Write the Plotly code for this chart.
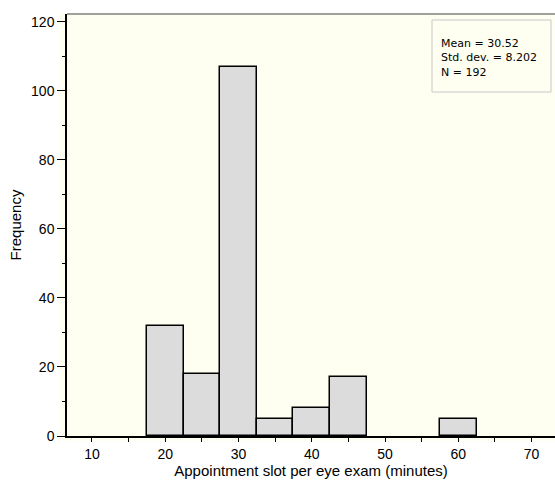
import plotly.graph_objects as go

# histogram bins (centre, minutes) and their counts
bin_centers = [20, 25, 30, 35, 40, 45, 60]
counts = [32, 18, 107, 5, 8, 17, 5]
bin_width = 5

stats_lines = ["Mean = 30.52", "Std. dev. = 8.202", "N = 192"]

x_ticks = [10, 20, 30, 40, 50, 60, 70]
y_ticks = [0, 20, 40, 60, 80, 100, 120]

W, H = 555, 483
L, R, T, B = 67, 0, 14, 47
pw, ph = W - L - R, H - T - B
bg = "#fefef1"

fig = go.Figure()
fig.add_trace(go.Bar(
    x=bin_centers, y=counts, width=bin_width,
    marker=dict(color="#dcdcdc", line=dict(color="black", width=1.5)),
    hoverinfo="x+y",
))

shapes = [
    # beige panel slightly larger than the axes box
    dict(type="rect", xref="paper", yref="paper", layer="below",
         x0=-7 / pw, x1=1, y0=-5 / ph, y1=1 + 1 / ph,
         fillcolor=bg, line=dict(width=0)),
    # grey top border
    dict(type="line", xref="paper", yref="paper",
         x0=0, x1=1, y0=1, y1=1, line=dict(color="#808080", width=1.5)),
    # stats box
    dict(type="rect", xref="paper", yref="paper",
         x0=(432 - L) / pw, x1=(551 - L) / pw,
         y0=(H - B - 92) / ph, y1=(H - B - 20) / ph,
         fillcolor=bg, line=dict(color="#c8c8c8", width=1)),
]

fig.update_layout(
    width=W, height=H,
    margin=dict(l=L, r=R, t=T, b=B),
    paper_bgcolor="white", plot_bgcolor=bg,
    font=dict(family="Liberation Sans, Arial, sans-serif", size=14, color="black"),
    showlegend=False,
    bargap=0,
    shapes=shapes,
    annotations=[dict(
        xref="paper", yref="paper",
        x=(439 - L) / pw, y=(H - B - 58) / ph,
        xanchor="left", yanchor="middle", align="left",
        text="<br>".join(stats_lines), showarrow=False,
        font=dict(family="DejaVu Sans, sans-serif", size=11, color="black"),
    )],
    xaxis=dict(
        range=[6.6, 73.2], tickmode="array", tickvals=x_ticks,
        ticks="outside", ticklen=4, tickwidth=1.2, tickcolor="black",
        minor=dict(dtick=5, tick0=0, ticks="outside", ticklen=4, tickcolor="black", tickwidth=1.2),
        showline=True, linecolor="black", linewidth=1.5,
        showgrid=False, zeroline=False,
        title=dict(text="Appointment slot per eye exam (minutes)", font=dict(size=15), standoff=2),
        tickfont=dict(size=14),
    ),
    yaxis=dict(
        range=[0, 122.3], tickmode="array", tickvals=y_ticks,
        ticks="outside", ticklen=8, tickwidth=1.2, tickcolor="black",
        minor=dict(dtick=10, tick0=0, ticks="outside", ticklen=3, tickcolor="black", tickwidth=1.2),
        showline=True, linecolor="black", linewidth=1.5,
        showgrid=False, zeroline=False,
        title=dict(text="Frequency", font=dict(size=15), standoff=6),
        tickfont=dict(size=14),
    ),
)

fig.write_html("out.html", config={"displayModeBar": False},
               post_script="document.body.style.margin='0';")
